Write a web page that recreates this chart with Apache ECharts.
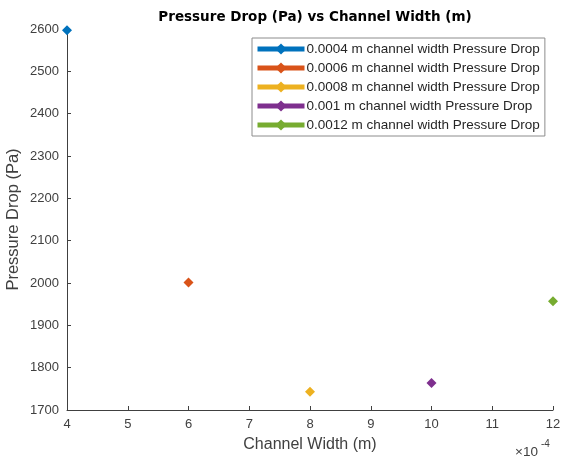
<!DOCTYPE html>
<html>
<head>
<meta charset="utf-8">
<script src="https://cdn.jsdelivr.net/npm/echarts@6/dist/echarts.min.js"></script>
<style>
  html, body { margin: 0; padding: 0; background: #fff; }
  #chart { width: 564px; height: 460px; }
</style>
</head>
<body>
<div id="chart"></div>
<script>
// Channel widths (m) and the pressure drop measured for each (Pa)
const widths = [0.0004, 0.0006, 0.0008, 0.001, 0.0012];
const widthLabels = ['0.0004', '0.0006', '0.0008', '0.001', '0.0012'];
const pressureDrop = [2597, 2001, 1743, 1764, 1957];
const colors = ['#0072BD', '#D95319', '#EDB120', '#7E2F8E', '#77AC30'];

const font = 'Helvetica, "Liberation Sans", Arial, sans-serif';

const series = widths.map((w, i) => ({
  name: widthLabels[i] + ' m channel width Pressure Drop',
  type: 'line',
  data: [[w, pressureDrop[i]]],
  symbol: 'diamond',
  symbolSize: 10,
  showSymbol: true,
  clip: false,
  itemStyle: { color: colors[i] },
  lineStyle: { color: colors[i], width: 5 }
}));

const chart = echarts.init(document.getElementById('chart'), null, { renderer: 'canvas' });
chart.setOption({
  animation: false,
  backgroundColor: '#fff',
  title: {
    text: 'Pressure Drop (Pa) vs Channel Width (m)',
    left: 310, top: 5, textAlign: 'center',
    textStyle: { fontFamily: '"DejaVu Sans", sans-serif', fontSize: 13.5, fontWeight: 'bold', color: '#000' }
  },
  grid: { left: 67, right: 11, top: 29, bottom: 50, containLabel: false, outerBoundsMode: 'none' },
  legend: {
    orient: 'vertical',
    left: 252, top: 38,
    padding: [4, 5, 4, 3],
    itemGap: 5,
    itemWidth: 47, itemHeight: 14,
    backgroundColor: '#fff',
    borderColor: '#8c8c8c', borderWidth: 1,
    lineStyle: { width: 5 },
    textStyle: { fontFamily: font, fontSize: 13.5, color: '#262626', padding: [0, 0, 0, -3] },
    data: series.map(s => s.name)
  },
  xAxis: {
    type: 'value',
    min: 0.0004, max: 0.0012, interval: 0.0001,
    name: 'Channel Width (m)',
    nameLocation: 'middle', nameGap: 27,
    nameMoveOverlap: false,
    nameTextStyle: { fontFamily: font, fontSize: 16, color: '#404040' },
    axisLine: { lineStyle: { color: '#404040', width: 1 } },
    axisTick: { inside: true, length: 4, lineStyle: { color: '#404040' } },
    axisLabel: {
      fontFamily: font, fontSize: 13, color: '#404040', margin: 8,
      formatter: v => String(Math.round(v * 1e4))
    },
    splitLine: { show: false }
  },
  yAxis: {
    type: 'value',
    min: 1700, max: 2600, interval: 100,
    name: 'Pressure Drop (Pa)',
    nameLocation: 'middle', nameGap: 45, nameRotate: 90,
    nameMoveOverlap: false,
    nameTextStyle: { fontFamily: font, fontSize: 16.5, color: '#404040' },
    axisLine: { show: true, lineStyle: { color: '#404040', width: 1 } },
    axisTick: { show: true, inside: true, length: 4, lineStyle: { color: '#404040' } },
    axisLabel: { fontFamily: font, fontSize: 13, color: '#404040', margin: 8, formatter: v => String(v) },
    splitLine: { show: false }
  },
  graphic: [{
    type: 'text',
    left: 515, top: 445,
    style: { text: '×10', font: '13.5px ' + font, fill: '#404040' }
  }, {
    type: 'text',
    left: 541, top: 439,
    style: { text: '-4', font: '10px ' + font, fill: '#404040' }
  }],
  series: series
});
</script>
</body>
</html>
